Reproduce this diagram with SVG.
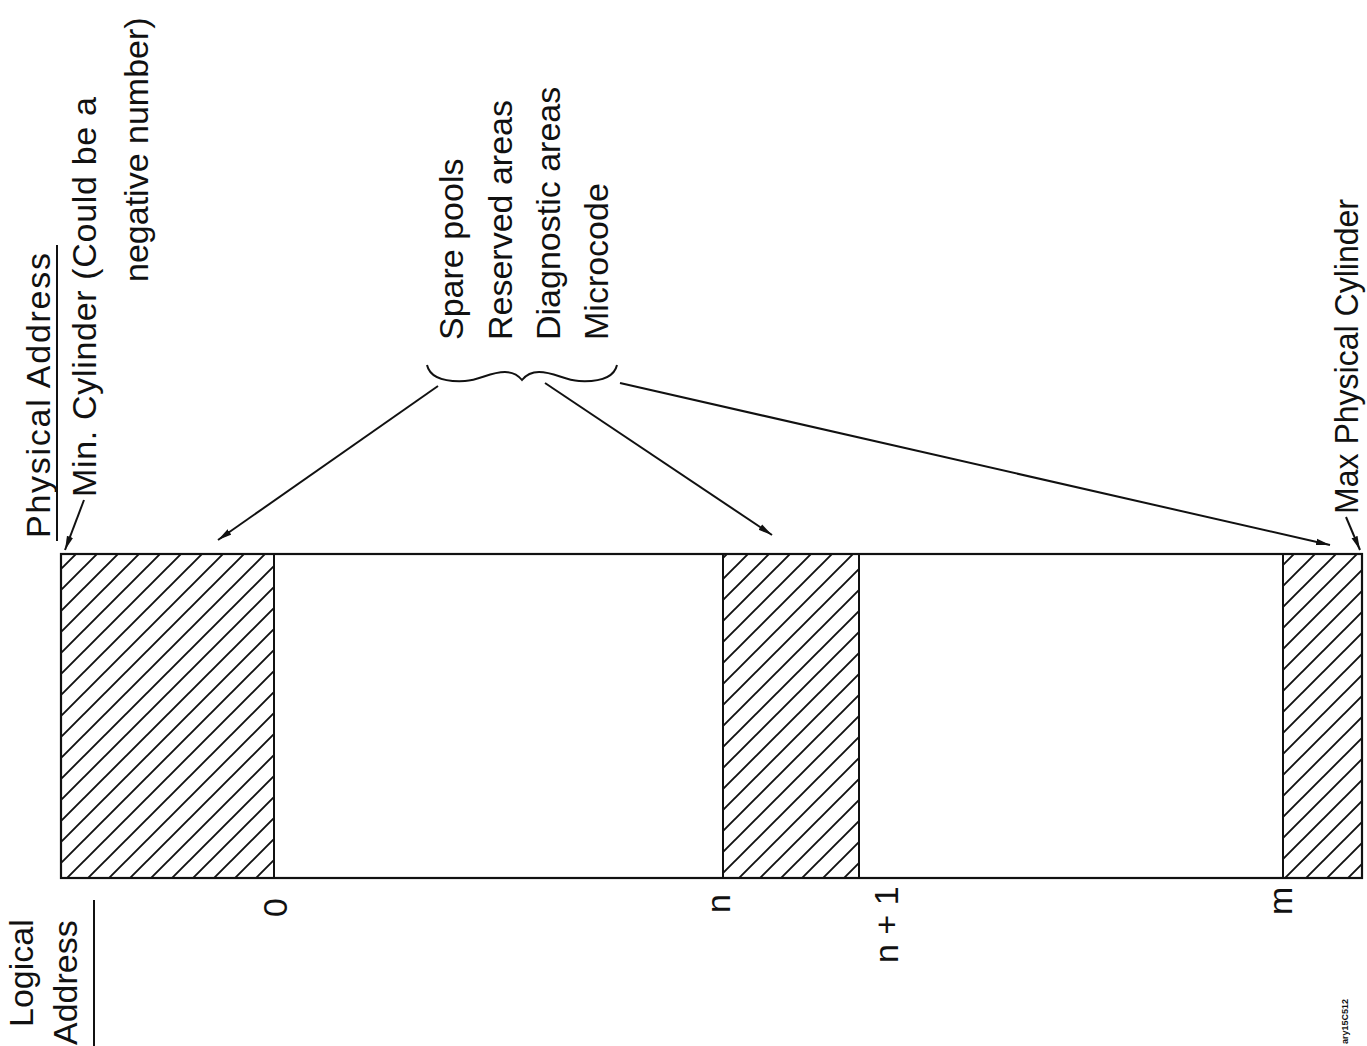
<svg xmlns="http://www.w3.org/2000/svg" width="1367" height="1046" viewBox="0 0 1367 1046">
<style>
.t{font-family:"Liberation Sans",Arial,sans-serif;font-size:34px;fill:#111}
.ln{stroke:#111;stroke-width:2;fill:none}
.box{stroke:#111;stroke-width:2.2;fill:#fff}
</style>
<defs>
<pattern id="hatch" patternUnits="userSpaceOnUse" width="21" height="21">
<path d="M-2,23 L23,-2 M-6,6 L6,-6 M15,27 L27,15" stroke="#111" stroke-width="1.9"/>
</pattern>
<marker id="arr" viewBox="0 0 14 8" refX="14" refY="4" markerWidth="14" markerHeight="8" markerUnits="userSpaceOnUse" orient="auto">
<path d="M0,0.8 L14,4 L0,7.2 Z" fill="#111"/>
</marker>
</defs>
<rect width="1367" height="1046" fill="#fff"/>

<g id="bar">
<rect class="box" x="61" y="554" width="1301" height="324"/>
<rect x="61" y="554" width="213" height="324" fill="url(#hatch)" stroke="#111" stroke-width="2"/>
<rect x="723" y="554" width="136" height="324" fill="url(#hatch)" stroke="#111" stroke-width="2"/>
<rect x="1283" y="554" width="79" height="324" fill="url(#hatch)" stroke="#111" stroke-width="2"/>
</g>

<g id="physical-address">
<text class="t" transform="translate(50,538) rotate(-90)" textLength="285" lengthAdjust="spacing">Physical Address</text>
<line class="ln" x1="57" y1="541" x2="57" y2="245"/>
</g>
<g id="min-cylinder">
<text class="t" transform="translate(96,497) rotate(-90)" textLength="400" lengthAdjust="spacing">Min. Cylinder (Could be a</text>
<text class="t" transform="translate(148,282) rotate(-90)">negative number)</text>
</g>
<g id="areas">
<text class="t" transform="translate(463,340) rotate(-90)">Spare pools</text>
<text class="t" transform="translate(512,340) rotate(-90)">Reserved areas</text>
<text class="t" transform="translate(560,340) rotate(-90)">Diagnostic areas</text>
<text class="t" transform="translate(608,340) rotate(-90)">Microcode</text>
<path class="ln" d="M427,365 C430,378 445,382 465,381 C480,380 490,372 505,372 C513,372 518,375 522,380 C526,375 531,372 539,372 C554,372 564,380 579,381 C599,382 614,378 617,365"/>
</g>
<g id="max-cylinder">
<text class="t" transform="translate(1358,514) rotate(-90)" textLength="315" lengthAdjust="spacingAndGlyphs">Max Physical Cylinder</text>
</g>
<g id="logical-address">
<text class="t" transform="translate(33,1027) rotate(-90)">Logical</text>
<text class="t" transform="translate(77,1045) rotate(-90)">Address</text>
<line class="ln" x1="94" y1="900" x2="94" y2="1046"/>
</g>
<g id="ticks">
<text class="t" transform="translate(287,917) rotate(-90)">0</text>
<text class="t" transform="translate(730,913) rotate(-90)">n</text>
<text class="t" transform="translate(898,963) rotate(-90)">n + 1</text>
<text class="t" transform="translate(1292,915) rotate(-90)">m</text>
<text class="t" style="font-size:9px;font-weight:bold" transform="translate(1348,1044) rotate(-90)">ary15C512</text>
</g>

<g id="connectors">
<line class="ln" x1="84" y1="500" x2="65" y2="550" marker-end="url(#arr)"/>
<line class="ln" x1="438" y1="386" x2="218" y2="540" marker-end="url(#arr)"/>
<line class="ln" x1="545" y1="383" x2="772" y2="535" marker-end="url(#arr)"/>
<line class="ln" x1="620" y1="383" x2="1330" y2="545" marker-end="url(#arr)"/>
<line class="ln" x1="1346" y1="517" x2="1360" y2="550" marker-end="url(#arr)"/>
</g>
</svg>
